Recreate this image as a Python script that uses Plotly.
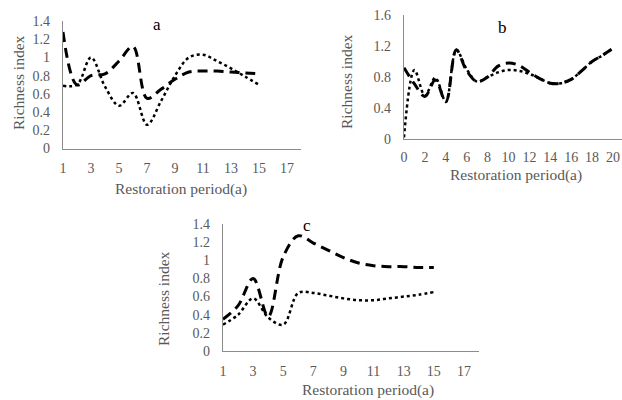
import plotly.graph_objects as go

# ---- data ----
years_a = list(range(1, 16))
a_dashed = [1.28, 0.70, 0.80, 0.82, 0.96, 1.12, 0.55, 0.65, 0.76, 0.84, 0.85, 0.85, 0.84, 0.83, 0.82]
a_dotted = [0.69, 0.70, 1.00, 0.68, 0.47, 0.61, 0.26, 0.52, 0.80, 1.00, 1.03, 0.96, 0.88, 0.79, 0.70]

years_b = list(range(0, 21))
b_dashed = [0.92, 0.71, 0.55, 0.76, 0.48, 1.15, 0.88, 0.74, 0.80, 0.94, 0.98, 0.95, 0.86, 0.78, 0.72, 0.72, 0.77, 0.88, 1.00, 1.08, 1.17]
b_dotted = [0.02, 0.89, 0.56, 0.79, 0.48, 1.15, 0.90, 0.74, 0.80, 0.86, 0.89, 0.88, 0.84, 0.78, 0.72, 0.72, 0.77, 0.88, 1.00, 1.08, 1.17]

years_c = list(range(1, 16))
c_dashed = [0.35, 0.50, 0.80, 0.38, 1.04, 1.27, 1.19, 1.11, 1.03, 0.97, 0.94, 0.93, 0.93, 0.92, 0.92]
c_dotted = [0.29, 0.40, 0.58, 0.37, 0.29, 0.64, 0.64, 0.61, 0.58, 0.56, 0.56, 0.58, 0.60, 0.62, 0.65]

panel_labels = ["a", "b", "c"]
x_title = "Restoration period(a)"
y_title = "Richness index"

W, H = 622, 400
FONT = "Liberation Serif"
GREY = "#595959"
AXIS = "#8c8c8c"

fig = go.Figure()

dashed_style = dict(color="black", width=3, dash="10px,6px", shape="spline", smoothing=1)
dotted_style = dict(color="black", width=2.5, dash="dot", shape="spline", smoothing=1)

panels = [
    ("x", "y", years_a, a_dashed, a_dotted),
    ("x2", "y2", years_b, b_dashed, b_dotted),
    ("x3", "y3", years_c, c_dashed, c_dotted),
]
for xa, ya, xs, d1, d2 in panels:
    fig.add_trace(go.Scatter(x=xs, y=d2, mode="lines", line=dotted_style, xaxis=xa, yaxis=ya,
                             showlegend=False, cliponaxis=False, hoverinfo="skip"))
    fig.add_trace(go.Scatter(x=xs, y=d1, mode="lines", line=dashed_style, xaxis=xa, yaxis=ya,
                             showlegend=False, cliponaxis=False, hoverinfo="skip"))

def xax(domain, rng, dtick, tick0, anchor, standoff=7):
    return dict(domain=domain, range=rng, dtick=dtick, tick0=tick0, showgrid=False, zeroline=False,
                anchor=anchor, automargin=False, ticklabeloverflow="allow",
                showline=True, linecolor=AXIS, linewidth=1.3, ticks="", ticklabelstandoff=standoff,
                tickfont=dict(family=FONT, size=14, color=GREY))

def yax(domain, rng, dtick, anchor, fmt=None):
    d = dict(domain=domain, range=rng, dtick=dtick, showgrid=False, zeroline=False, anchor=anchor,
             automargin=False,
             showline=True, linecolor=AXIS, linewidth=1.3, ticks="", ticklabelstandoff=9,
             tickfont=dict(family=FONT, size=14, color=GREY))
    if fmt:
        d["tickformat"] = fmt
    return d

fig.update_layout(
    width=W, height=H, margin=dict(l=0, r=0, t=0, b=0, autoexpand=False),
    paper_bgcolor="white", plot_bgcolor="white",
    xaxis=xax([63 / W, 301 / W], [1, 18], 2, 1, "y"),
    yaxis=yax([(H - 148.5) / H, (H - 21) / H], [0, 1.4], 0.2, "x"),
    xaxis2=xax([404 / W, 1.0], [0, (W - 404) / 10.45], 2, 0, "y2", standoff=5),
    yaxis2=yax([(H - 139) / H, (H - 15) / H], [0, 1.6], 0.4, "x2", ".1~f"),
    xaxis3=xax([223 / W, 479 / W], [1, 18], 2, 1, "y3"),
    yaxis3=yax([(H - 351) / H, (H - 224) / H], [0, 1.4], 0.2, "x3"),
)

def ann(x, y, text, color=GREY, size=15.5, angle=0):
    fig.add_annotation(x=x / W, y=1 - y / H, xref="paper", yref="paper", text=text, showarrow=False,
                       textangle=angle, xanchor="center", yanchor="middle",
                       font=dict(family=FONT, size=size, color=color))

# axis titles
ann(181, 189, x_title)
ann(18, 83, y_title, angle=-90)
ann(516, 175, x_title)
ann(347, 82, y_title, angle=-90)
ann(368, 390, x_title)
ann(163, 299, y_title, angle=-90)

# panel labels
ann(157, 24, panel_labels[0], color="black", size=17)
ann(502, 27, panel_labels[1], color="black", size=17)
ann(307, 226, panel_labels[2], color="black", size=17)

fig.write_html(
    "out.html",
    config={"displayModeBar": False},
    post_script="document.body.style.margin='0px';document.body.style.overflow='hidden';",
)
